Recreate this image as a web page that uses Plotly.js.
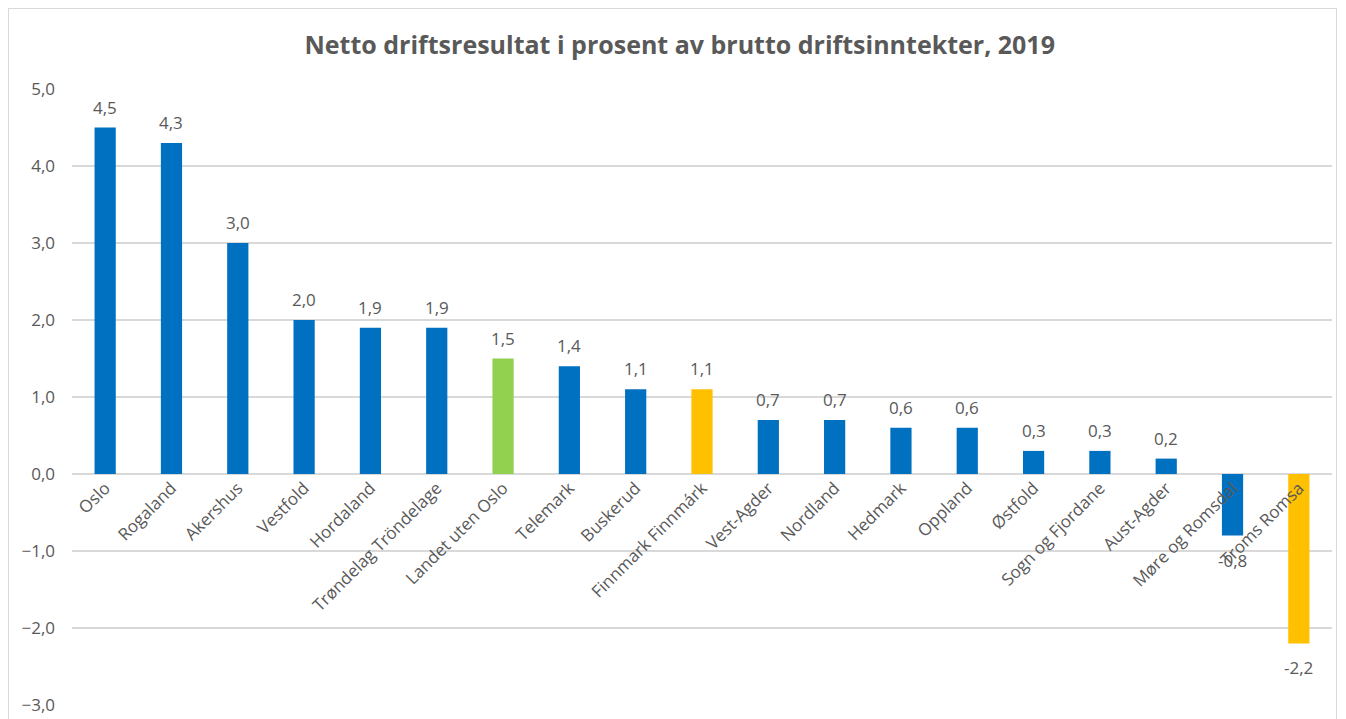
<!DOCTYPE html>
<html><head><meta charset="utf-8">
<script src="https://cdn.plot.ly/plotly-3.0.1.min.js"></script>
<style>
html,body{margin:0;padding:0;background:#fff;}
#frame{position:absolute;left:8px;top:8px;width:1329px;height:720px;border:1px solid #d9d9d9;box-sizing:border-box;}
#chart{position:absolute;left:0;top:0;width:1346px;height:719px;}
</style></head>
<body>
<div id="frame"></div>
<div id="chart"></div>
<script>
const categories = ["Oslo","Rogaland","Akershus","Vestfold","Hordaland","Trøndelag Tröndelage","Landet uten Oslo","Telemark","Buskerud","Finnmark Finnmárk","Vest-Agder","Nordland","Hedmark","Oppland","Østfold","Sogn og Fjordane","Aust-Agder","Møre og Romsdal","Troms Romsa"];
const values = [4.5,4.3,3.0,2.0,1.9,1.9,1.5,1.4,1.1,1.1,0.7,0.7,0.6,0.6,0.3,0.3,0.2,-0.8,-2.2];
const barColors = ["#0070C0","#0070C0","#0070C0","#0070C0","#0070C0","#0070C0","#92D050","#0070C0","#0070C0","#FFC000","#0070C0","#0070C0","#0070C0","#0070C0","#0070C0","#0070C0","#0070C0","#0070C0","#FFC000"];
const yMin = -3, yMax = 5;

const labels = values.map(v => v.toFixed(1).replace('.', ','));
const font = "Open Sans, Liberation Sans, sans-serif";

const trace = {
  type: 'bar', x: categories, y: values,
  marker: {color: barColors},
  hoverinfo: 'x+y'
};

const annotations = values.map((v, i) => ({
  x: categories[i], y: v, xref: 'x', yref: 'y', text: labels[i], showarrow: false,
  xanchor: 'center', yanchor: v >= 0 ? 'bottom' : 'top', yshift: v >= 0 ? 7 : -11,
  font: {family: font, size: 17, color: '#595959'}
}));

const layout = {
  width: 1346, height: 719,
  margin: {l: 72, r: 14, t: 89, b: 14},
  paper_bgcolor: 'rgba(0,0,0,0)', plot_bgcolor: 'rgba(0,0,0,0)',
  separators: ', ',
  bargap: 0.68,
  showlegend: false,
  annotations: annotations,
  title: {text: '<b>Netto driftsresultat i prosent av brutto driftsinntekter, 2019</b>',
          x: 0.505, xanchor: 'center', y: 0.937, yanchor: 'middle',
          font: {family: font, size: 25, color: '#595959'}},
  xaxis: {anchor: 'free', position: (0 - yMin) / (yMax - yMin), tickangle: -45,
          tickfont: {family: font, size: 17, color: '#595959'},
          showgrid: false, showline: false, zeroline: false, ticks: ''},
  yaxis: {range: [yMin, yMax], dtick: 1, tickformat: '.1f',
          tickfont: {family: font, size: 17, color: '#595959'},
          gridcolor: '#d9d9d9', gridwidth: 1.3, zeroline: true, zerolinecolor: '#d9d9d9', zerolinewidth: 1.3,
          showline: false, ticklabelstandoff: 16}
};

Plotly.newPlot('chart', [trace], layout, {displayModeBar: false, staticPlot: true});
</script>
</body></html>
